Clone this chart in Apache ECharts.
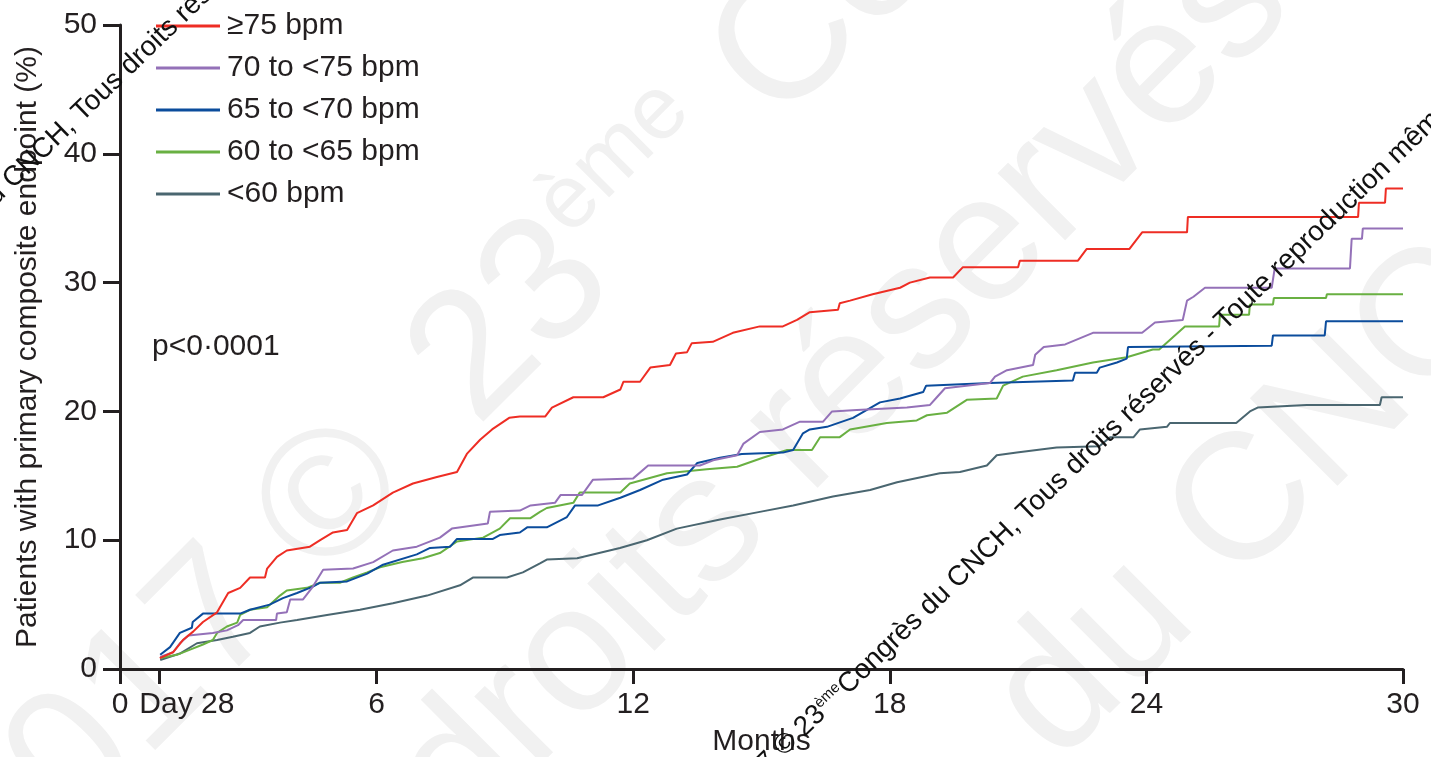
<!DOCTYPE html>
<html>
<head>
<meta charset="utf-8">
<script src="https://cdn.jsdelivr.net/npm/echarts@6/dist/echarts.min.js"></script>
<style>
html,body{margin:0;padding:0;background:#fff;}
#chart{width:1431px;height:757px;}
</style>
</head>
<body>
<div id="chart"></div>
<script>
// ---- data (months, % with primary composite endpoint) ----
const seriesNames = ['\u226575 bpm', '70 to <75 bpm', '65 to <70 bpm', '60 to <65 bpm', '<60 bpm'];

const hr75plus = [[0.93,0.85],[1.24,1.3],[1.47,2.25],[1.71,2.9],[1.94,3.65],[2.27,4.4],[2.53,5.9],[2.81,6.3],[3.04,7.1],[3.39,7.1],[3.44,7.8],[3.67,8.7],[3.9,9.2],[4.44,9.5],[4.68,10.0],[4.98,10.6],[5.31,10.8],[5.54,12.1],[5.92,12.7],[6.38,13.7],[6.85,14.4],[7.41,14.9],[7.88,15.3],[8.11,16.7],[8.42,17.8],[8.7,18.6],[9.1,19.5],[9.35,19.6],[9.94,19.6],[10.1,20.3],[10.6,21.1],[11.3,21.1],[11.7,21.7],[11.77,22.3],[12.16,22.3],[12.4,23.4],[12.86,23.6],[13.0,24.5],[13.26,24.6],[13.37,25.3],[13.86,25.4],[14.33,26.1],[14.96,26.6],[15.5,26.6],[15.83,27.1],[16.13,27.7],[16.79,27.9],[16.83,28.4],[17.07,28.6],[17.6,29.1],[18.24,29.6],[18.47,30.0],[18.94,30.4],[19.48,30.4],[19.71,31.2],[21.0,31.2],[21.04,31.7],[22.4,31.7],[22.6,32.6],[23.6,32.6],[23.9,33.9],[24.95,33.9],[24.97,35.1],[28.95,35.1],[28.97,36.2],[29.58,36.2],[29.6,37.3],[30,37.3]];

const hr70to75 = [[0.94,0.93],[1.24,1.3],[1.4,2.0],[1.6,2.6],[2.17,2.8],[2.5,3.0],[2.76,3.4],[2.88,3.8],[3.65,3.8],[3.67,4.3],[3.9,4.4],[3.98,5.4],[4.28,5.4],[4.51,6.4],[4.75,7.7],[5.45,7.8],[5.92,8.3],[6.38,9.2],[6.94,9.5],[7.48,10.2],[7.76,10.9],[8.6,11.3],[8.65,12.2],[9.35,12.3],[9.6,12.7],[10.17,12.9],[10.3,13.5],[10.8,13.5],[11.06,14.7],[12.0,14.8],[12.35,15.8],[13.56,15.8],[13.87,16.2],[14.43,16.6],[14.58,17.5],[14.96,18.4],[15.5,18.6],[15.9,19.2],[16.44,19.2],[16.65,20.0],[17.23,20.1],[18.4,20.3],[18.94,20.5],[19.1,21.1],[19.29,21.8],[20.34,22.2],[20.46,22.7],[20.74,23.2],[21.35,23.6],[21.4,24.4],[21.6,25.0],[22.1,25.2],[22.75,26.1],[23.9,26.1],[24.2,26.9],[24.85,27.1],[24.95,28.6],[25.1,28.9],[25.37,29.6],[26.93,29.6],[27.0,31.1],[28.76,31.1],[28.8,33.4],[29.04,33.4],[29.06,34.2],[30,34.2]];

const hr65to70 = [[0.94,1.1],[1.17,1.7],[1.4,2.8],[1.68,3.2],[1.7,3.65],[1.94,4.3],[2.81,4.3],[3.04,4.6],[3.5,5.0],[3.81,5.5],[4.14,5.9],[4.51,6.4],[4.68,6.7],[5.31,6.8],[5.78,7.4],[6.15,8.1],[6.94,8.9],[7.25,9.4],[7.72,9.5],[7.88,10.1],[8.72,10.1],[8.88,10.4],[9.35,10.6],[9.52,11.0],[9.98,11.0],[10.45,11.8],[10.64,12.7],[11.18,12.7],[11.7,13.3],[12.16,13.9],[12.7,14.7],[13.26,15.1],[13.5,16.0],[14.03,16.4],[14.54,16.7],[15.5,16.8],[15.74,17.0],[15.97,18.3],[16.13,18.6],[16.53,18.8],[17.14,19.5],[17.77,20.7],[18.24,21.0],[18.78,21.5],[18.85,22.0],[20.34,22.2],[22.28,22.4],[22.33,23.0],[22.84,23.0],[22.91,23.4],[23.31,23.8],[23.54,24.1],[23.57,25.0],[26.93,25.1],[26.96,25.9],[28.17,25.9],[28.2,27.0],[30,27.0]];

const hr60to65 = [[0.94,0.85],[1.33,1.1],[1.64,1.5],[1.94,1.9],[2.17,2.25],[2.27,2.8],[2.5,3.3],[2.74,3.6],[2.81,4.2],[3.04,4.6],[3.44,4.8],[3.74,5.7],[3.9,6.1],[4.37,6.3],[4.68,6.7],[5.14,6.7],[5.45,7.1],[5.78,7.5],[6.08,7.9],[6.6,8.3],[7.08,8.6],[7.48,9.0],[7.88,9.9],[8.49,10.2],[8.88,10.9],[9.12,11.7],[9.59,11.7],[9.82,12.2],[9.98,12.5],[10.6,12.9],[10.75,13.7],[11.7,13.7],[11.92,14.4],[12.79,15.2],[13.72,15.5],[14.43,15.7],[15.03,16.4],[15.6,17.0],[16.18,17.0],[16.37,18.0],[16.83,18.0],[17.07,18.6],[17.93,19.1],[18.63,19.3],[18.87,19.7],[19.34,19.9],[19.8,20.9],[20.5,21.0],[20.65,22.0],[21.11,22.7],[21.9,23.2],[22.75,23.8],[23.54,24.2],[24.15,24.8],[24.3,24.8],[24.9,26.6],[25.7,26.6],[25.72,27.5],[26.4,27.5],[26.42,28.3],[26.96,28.3],[26.98,28.8],[28.2,28.8],[28.22,29.1],[30,29.1]];

const hrBelow60 = [[0.94,0.7],[1.4,1.2],[1.8,2.0],[2.27,2.25],[2.64,2.5],[3.04,2.8],[3.27,3.3],[3.74,3.6],[4.14,3.8],[4.84,4.2],[5.61,4.6],[6.38,5.1],[7.18,5.7],[7.95,6.5],[8.25,7.1],[9.05,7.1],[9.42,7.5],[9.82,8.2],[9.98,8.5],[10.69,8.6],[11.69,9.4],[12.32,10.0],[13.02,10.9],[14.03,11.6],[14.96,12.2],[15.74,12.7],[16.67,13.4],[17.54,13.9],[18.17,14.5],[19.17,15.2],[19.64,15.3],[20.27,15.8],[20.5,16.6],[20.97,16.8],[21.9,17.2],[22.9,17.3],[23.15,18.0],[23.7,18.0],[23.85,18.6],[24.48,18.8],[24.55,19.1],[26.1,19.1],[26.42,20.0],[26.6,20.3],[27.75,20.5],[29.46,20.5],[29.5,21.1],[30,21.1]];

const xTickValues = [0, 0.92, 6, 12, 18, 24, 30];
const xTickLabels = ['0', 'Day 28', '6', '12', '18', '24', '30'];
const yTickValues = [0, 10, 20, 30, 40, 50];
const pValueText = 'p<0\u00b70001';

// ---- styling ----
const colors = ['#ee2d24', '#9471b8', '#0b4c9c', '#69b042', '#4a6670'];
const ink = '#231f20';
const FONT = '"Liberation Sans", Arial, sans-serif';
const allData = [hr75plus, hr70to75, hr65to70, hr60to65, hrBelow60];

const chart = echarts.init(document.getElementById('chart'), null, {renderer: 'canvas'});

// dark diagonal watermark text
const ANG = 44 * Math.PI / 180;
const wmRich = {
  a: {fontSize: 28, fontFamily: FONT, color: '#111'},
  s: {fontSize: 15, fontFamily: FONT, color: '#111', verticalAlign: 'top'}
};
function wm(x, y, before, after) {
  return [
    {type: 'text', x: x, y: y, rotation: ANG, z: 100, silent: true,
     style: {text: after, fontSize: 28, fontFamily: FONT, fill: '#111', textAlign: 'left', textVerticalAlign: 'bottom'}},
    {type: 'text', x: x, y: y, rotation: ANG, z: 100, silent: true,
     style: {text: before, rich: wmRich, fontSize: 28, fontFamily: FONT, fill: '#111', textAlign: 'right', textVerticalAlign: 'bottom'}}
  ];
}
// faint large background watermark text
const faint = '#f1f1f1';
const bigRich = {
  a: {fontSize: 180, fontFamily: FONT, color: faint},
  s: {fontSize: 90, fontFamily: FONT, color: faint, verticalAlign: 'top'}
};
function bigWm(x, y, txt, align) {
  return {type: 'text', x: x, y: y, rotation: Math.PI / 4, z: -10, silent: true,
    style: {text: txt, rich: bigRich, fontSize: 180, fontFamily: FONT, fill: faint, textAlign: align, textVerticalAlign: 'middle'}};
}

const option = {
  animation: false,
  backgroundColor: '#fff',
  grid: {left: 120, right: 28, top: 25, bottom: 88, containLabel: false, outerBoundsMode: 'none'},
  legend: {
    orient: 'vertical', left: 151, top: 0, itemGap: 0,
    icon: 'rect', itemWidth: 64, itemHeight: 3,
    textStyle: {fontSize: 30, fontFamily: FONT, color: ink, lineHeight: 42, padding: [0, 0, 0, 2]},
    data: seriesNames
  },
  xAxis: {
    type: 'value', min: 0, max: 30,
    name: 'Months', nameLocation: 'middle', nameGap: 58,
    nameTextStyle: {fontSize: 30, fontFamily: FONT, color: ink},
    axisLine: {show: true, lineStyle: {color: ink, width: 3}},
    axisTick: {show: true, customValues: xTickValues, length: 15, lineStyle: {color: ink, width: 3}},
    axisLabel: {
      customValues: xTickValues, margin: 21, fontSize: 30, fontFamily: FONT, color: ink,
      formatter: function (v) {
        const i = xTickValues.findIndex(t => Math.abs(t - v) < 1e-6);
        const s = i >= 0 ? xTickLabels[i] : '';
        return s === 'Day 28' ? '{d|' + s + '}' : s;
      },
      rich: {d: {width: 150, align: 'right', fontSize: 30, fontFamily: FONT, color: ink}}
    },
    splitLine: {show: false}
  },
  yAxis: {
    type: 'value', min: 0, max: 50, interval: 10,
    name: 'Patients with primary composite endpoint (%)', nameLocation: 'middle', nameGap: 77, nameRotate: 90,
    nameTextStyle: {fontSize: 30, fontFamily: FONT, color: ink},
    axisLine: {show: true, lineStyle: {color: ink, width: 3}},
    axisTick: {show: true, customValues: yTickValues, length: 17, lineStyle: {color: ink, width: 3}},
    axisLabel: {customValues: yTickValues, margin: 23, fontSize: 30, fontFamily: FONT, color: ink},
    splitLine: {show: false}
  },
  series: seriesNames.map((n, i) => ({
    name: n, type: 'line', data: allData[i], symbol: 'none', smooth: false,
    color: colors[i],
    lineStyle: {color: colors[i], width: 2},
    z: 10 - i
  })),
  graphic: [
    bigWm(381, 454, '{a|2017 \u00a9}', 'right'),
    bigWm(442, 393, '{a|23}{s|\u00e8me}{a| Congr\u00e8s du CNCH}', 'left'),
    bigWm(427, 808, '{a|droits r\u00e9serv\u00e9s - Toute}', 'left'),
    bigWm(1023, 730, '{a|du CNCH, Tous droits}', 'left'),
    {type: 'text', left: 152, top: 332, z: 50,
     style: {text: pValueText, fontSize: 30, fontFamily: FONT, fill: ink}}
  ].concat(
    wm(852, 700, '{a|2017 \u00a9 23}{s|\u00e8me}', 'Congr\u00e8s du CNCH, Tous droits r\u00e9serv\u00e9s - Toute reproduction m\u00eame partielle interdite'),
    wm(17, 194, '{a|2017 \u00a9 23}{s|\u00e8me}{a| Congr\u00e8s du }', 'CNCH, Tous droits r\u00e9serv\u00e9s - Toute reproduction m\u00eame partielle interdite')
  )
};

chart.setOption(option);
</script>
</body>
</html>
